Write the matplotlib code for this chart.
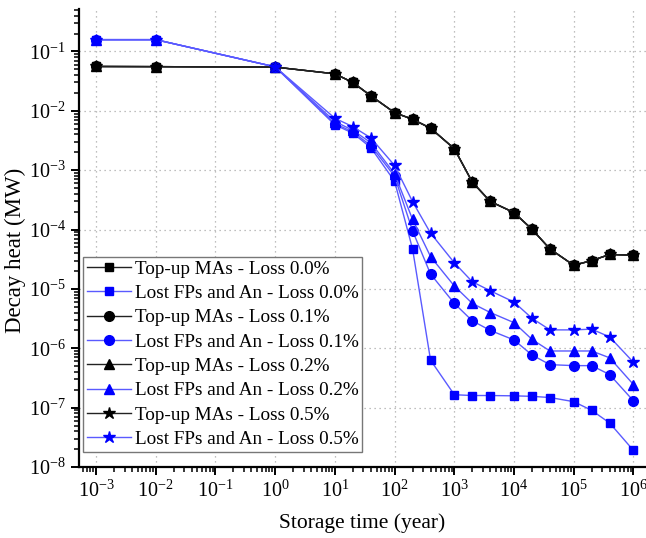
import matplotlib.pyplot as plt
import numpy as np

# storage time (year)
years = [1e-3, 1e-2, 1, 10, 20, 40, 100, 200, 400, 1e3, 2e3, 4e3,
         1e4, 2e4, 4e4, 1e5, 2e5, 4e5, 1e6]

# Top-up MAs: the four loss cases lie on top of each other
topup = [0.0558, 0.0555, 0.0545, 0.042, 0.030, 0.0179, 0.0093, 0.0072,
         0.0051, 0.0023, 6.3e-4, 2.97e-4, 1.93e-4, 1.01e-4, 4.7e-5,
         2.5e-5, 3.0e-5, 3.8e-5, 3.7e-5]

# Lost FPs and An
lost_00 = [0.158, 0.158, 0.055, 0.0058, 0.0042, 0.0024, 6.5e-4, 4.7e-5,
           6.3e-7, 1.65e-7, 1.6e-7, 1.6e-7, 1.58e-7, 1.55e-7, 1.48e-7,
           1.26e-7, 9.0e-8, 5.5e-8, 1.9e-8]
lost_01 = [0.158, 0.158, 0.055, 0.0061, 0.0044, 0.0026, 7.9e-4, 9.5e-5,
           1.78e-5, 5.7e-6, 2.9e-6, 2.0e-6, 1.38e-6, 7.7e-7, 5.3e-7,
           5.1e-7, 5.1e-7, 3.6e-7, 1.3e-7]
lost_02 = [0.158, 0.158, 0.055, 0.0066, 0.0047, 0.0029, 8.7e-4, 1.48e-4,
           3.5e-5, 1.12e-5, 5.7e-6, 4.0e-6, 2.7e-6, 1.41e-6, 9.0e-7,
           9.0e-7, 9.0e-7, 6.9e-7, 2.45e-7]
lost_05 = [0.158, 0.158, 0.055, 0.0075, 0.0054, 0.0035, 0.0012, 2.95e-4,
           8.7e-5, 2.76e-5, 1.32e-5, 9.3e-6, 6.0e-6, 3.2e-6, 2.04e-6,
           2.04e-6, 2.1e-6, 1.55e-6, 5.8e-7]

losses = ["0.0%", "0.1%", "0.2%", "0.5%"]
lost_series = [lost_00, lost_01, lost_02, lost_05]
markers = [("s", 6), ("o", 7), ("^", 7.5), ("*", 9)]

plt.rcParams["font.family"] = ["Liberation Serif", "DejaVu Serif"]
plt.rcParams["mathtext.fontset"] = "stix"

fig = plt.figure(figsize=(6.46, 5.38), dpi=100)
ax = fig.add_axes([79 / 646, 71 / 538, 567 / 646, 458 / 538])

for loss, lost, (mk, ms) in zip(losses, lost_series, markers):
    ax.plot(years, topup, color="#222222", lw=1.0, marker=mk, ms=ms,
            mfc="black", mec="black", label=f"Top-up MAs - Loss {loss}")
    ax.plot(years, lost, color="#5a5aff", lw=1.0, marker=mk, ms=ms,
            mfc="#0000ff", mec="#0000ff",
            label=f"Lost FPs and An - Loss {loss}")

ax.set_xscale("log")
ax.set_yscale("log")
ax.set_xlim(10 ** -3.285, 10 ** 6.21)
ax.set_ylim(1e-8, 10 ** -0.285)

ax.xaxis.set_major_locator(plt.LogLocator(base=10, numticks=20))
ax.xaxis.set_minor_locator(plt.LogLocator(base=10, subs=np.arange(2, 10), numticks=20))
ax.yaxis.set_major_locator(plt.LogLocator(base=10, numticks=20))
ax.yaxis.set_minor_locator(plt.LogLocator(base=10, subs=np.arange(2, 10), numticks=20))

ax.spines["top"].set_visible(False)
ax.spines["right"].set_visible(False)
for s in ("left", "bottom"):
    ax.spines[s].set_linewidth(1.6)

ax.tick_params(which="major", direction="out", length=6, width=1.4, labelsize=14.5)
ax.tick_params(which="minor", direction="out", length=3.5, width=1.1)
ax.grid(which="major", linestyle=(0, (1, 3)), color="#aaaaaa", lw=0.9)
ax.set_axisbelow(True)

ax.set_xlabel("Storage time (year)", fontsize=15.5)
ax.set_ylabel("Decay heat (MW)", fontsize=16.5)
ax.xaxis.set_label_coords(0.5, -0.100)
ax.yaxis.set_label_coords(-0.093, 0.474)

leg = ax.legend(loc="lower left", bbox_to_anchor=(0.007, 0.033),
                borderaxespad=0, fontsize=13.8, fancybox=False,
                edgecolor="#777777", framealpha=1, labelspacing=0.36,
                handlelength=2.3, handletextpad=0.2, borderpad=0.2)
leg.get_frame().set_linewidth(1.0)

fig.savefig("out.png", dpi=100)
